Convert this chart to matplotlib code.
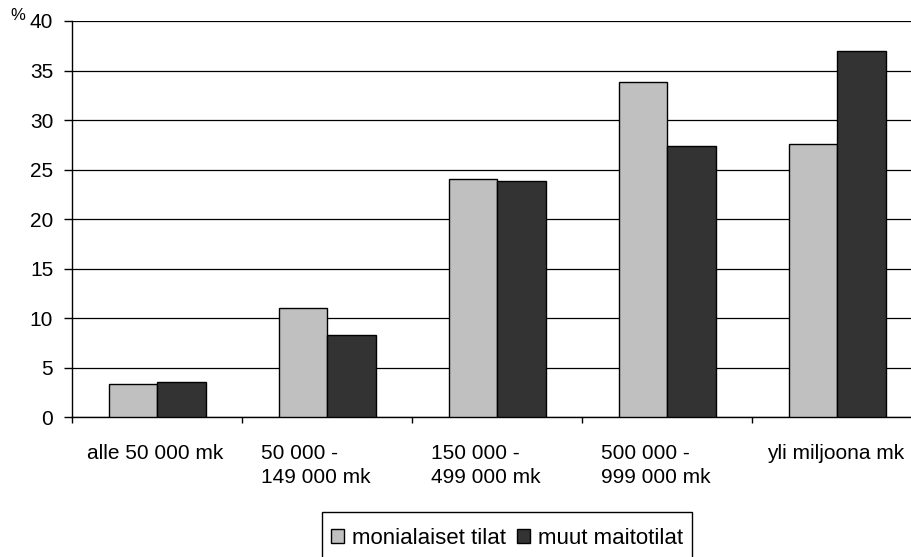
import numpy as np
import matplotlib
matplotlib.use("Agg")
import matplotlib.pyplot as plt
from matplotlib.patches import Patch, Rectangle

plt.rcParams['font.family'] = ['Liberation Sans', 'DejaVu Sans']

# data
categories = ["alle 50 000 mk", "50 000 -\n149 000 mk", "150 000 -\n499 000 mk",
              "500 000 -\n999 000 mk", "yli miljoona mk"]
series_names = ["monialaiset tilat", "muut maitotilat"]
monialaiset = [3.4, 11.0, 24.1, 33.8, 27.6]
muut = [3.6, 8.3, 23.9, 27.4, 37.0]
yticks = [0, 5, 10, 15, 20, 25, 30, 35, 40]

light = "#C0C0C0"
dark = "#333333"
fs = 15

fig = plt.figure(figsize=(9.11, 5.57), dpi=100)
# axis runs a bit past the right edge like in the original
ax = fig.add_axes([72.3 / 911, 1 - 417.3 / 557, 850 / 911, 396.3 / 557])

x = np.arange(len(categories)) + 0.5
w = 0.285
ax.bar(x - w / 2, monialaiset, w, color=light, edgecolor="black", linewidth=1.0, zorder=3)
ax.bar(x + w / 2, muut, w, color=dark, edgecolor="black", linewidth=1.0, zorder=3)

ax.set_xlim(0, len(categories))
ax.set_ylim(0, 40)
ax.set_yticks(yticks)
ax.set_yticklabels([str(t) for t in yticks], fontsize=fs)
ax.tick_params(axis="y", direction="out", length=5.8, width=1, pad=8)
ax.set_xticks(np.arange(len(categories) + 1))
ax.set_xticklabels([])
ax.tick_params(axis="x", direction="out", length=4.5, width=1)

ax.grid(axis="y", color="black", linewidth=0.9, zorder=0)
ax.set_axisbelow(True)
for s in ["top", "right"]:
    ax.spines[s].set_visible(False)
ax.spines["left"].set_linewidth(1)
ax.spines["bottom"].set_linewidth(1)

# category labels, wrapped ones left-aligned like Excel
trans = ax.get_xaxis_transform()
for xi, lab in zip(x, categories):
    if "\n" in lab:
        ax.text(xi - 0.065, -0.068, lab, transform=trans, ha="center", va="top",
                multialignment="left", fontsize=fs, linespacing=1.3)
    else:
        ax.text(xi - 0.01, -0.068, lab, transform=trans, ha="center", va="top", fontsize=fs)

fig.text(10 / 911, 1 - 20 / 557, "%", fontsize=12, ha="left", va="baseline")

handles = [Patch(facecolor=light, edgecolor="black", linewidth=1),
           Patch(facecolor=dark, edgecolor="black", linewidth=1)]
leg = fig.legend(handles, series_names, loc="center",
                 bbox_to_anchor=(507 / 911, 1 - 538 / 557), ncol=2, fontsize=16,
                 frameon=False, borderpad=0,
                 handlelength=0.6, handleheight=0.6, handletextpad=0.35,
                 columnspacing=0.5, borderaxespad=0)

# Excel-style legend box: small side padding, taller top padding
fig.canvas.draw()
bb = leg.get_window_extent()
fig.patches.append(Rectangle((bb.x0 - 9, bb.y0 - 16), bb.width + 18, bb.height + 32,
                             transform=None, fill=False, edgecolor="black",
                             linewidth=1, figure=fig))

fig.savefig("out.png", dpi=100)
